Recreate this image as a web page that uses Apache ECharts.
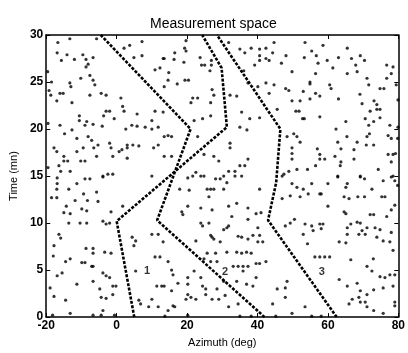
<!DOCTYPE html>
<html><head><meta charset="utf-8">
<script src="https://cdn.jsdelivr.net/npm/echarts/dist/echarts.min.js"></script>
<style>html,body{margin:0;padding:0;background:#fff}#c{width:408px;height:353px}</style>
</head><body><div id="c"></div>
<script>
const titleText = 'Measurement space';
const xName = 'Azimuth (deg)';
const yName = 'Time (mn)';
const xMin = -20, xMax = 80, xStep = 20;
const yMin = 0, yMax = 30, yStep = 5;

// true target tracks (azimuth, time)
const track1 = [[5,0],[0,10.2],[31.3,20.2],[29.8,26.5],[24.3,30]];
const track2 = [[42,0],[11.5,10.3],[21,20],[-4.5,30]];
const track3 = [[62.5,0],[43,10.3],[45.3,14.3],[46.5,20],[28.5,30]];

// track labels
const labelText = ['1','2','3'];
const labelX = [8.6, 30.8, 58.3];
const labelY = [4.9, 4.8, 4.8];

// clutter measurements, upper half (azimuth, time)
const clutterUpper = [
[-16.7,29.2],[-13.3,29.6],[-5.7,29.6],[-16.9,28.1],[-14.1,27.9],[-15.7,27.3],[-12.0,27.4],[-9.6,27.9],[-8.7,27.4],[-6.7,27.6],
[-8.1,26.9],[-8.7,26.6],[2.1,28.6],[3.7,28.9],[7.2,29.3],[4.9,27.6],[7.2,27.8],[13.2,27.5],[10.9,26.3],[12.3,26.5],
[-18.5,25.0],[-19.6,26.1],[-13.3,24.9],[-13.0,24.5],[-16.1,23.8],[-15.2,23.8],[-19.2,24.1],[-18.7,23.6],[-17.0,23.0],[-10.2,25.4],
[-7.6,25.7],[-6.7,25.2],[-6.2,24.7],[-7.6,23.6],[-4.4,23.8],[-3.0,23.6],[-12.7,22.8],[1.2,23.3],[1.7,22.4],[2.1,21.9],
[-3.0,21.9],[-2.0,21.9],[-3.7,21.4],[5.8,21.6],[10.9,21.9],[13.2,21.8],[-10.6,21.4],[-10.6,20.9],[-19.5,20.6],[-8.5,20.8],
[-9.0,20.4],[-6.7,20.5],[-16.1,20.4],[-4.1,20.3],[-0.7,21.1],[2.6,20.0],[4.3,20.4],[5.8,20.3],[8.1,20.2],[10.0,20.9],
[10.0,20.0],[11.8,20.2],[13.5,19.2],[-14.8,19.5],[-12.7,19.9],[-11.3,19.0],[-8.1,19.2],[-7.1,18.8],[-9.5,18.0],[-6.5,18.0],
[-5.3,18.3],[-2.0,18.5],[-1.6,18.0],[0.7,17.6],[3.0,18.0],[3.0,18.3],[4.6,18.3],[6.3,18.2],[-1.1,17.1],[1.5,17.8],
[-17.8,18.0],[-17.0,17.6],[-11.3,17.6],[-5.7,17.1],[10.5,18.0],[11.8,18.3],[3.0,16.9],[-15.0,17.1],[-15.0,16.6],[-13.9,16.6],
[-10.2,16.6],[-9.0,16.6],[-16.4,16.1],[-15.9,15.5],[-13.2,15.5],[-3.9,15.0],[-2.5,15.2],[-1.1,15.2],[10.0,15.0],[-19.5,15.9],
[19.7,29.4],[19.3,28.6],[19.7,28.3],[16.5,28.1],[13.5,27.5],[16.3,27.4],[19.1,27.1],[23.7,27.6],[24.1,26.8],[25.0,26.8],
[26.9,27.3],[26.9,26.8],[26.5,26.2],[14.8,26.0],[14.6,25.2],[17.2,24.8],[19.4,25.2],[20.4,25.2],[13.5,24.5],[31.8,29.2],
[35.0,28.5],[36.4,28.1],[38.2,28.6],[40.6,28.5],[42.4,28.6],[44.7,29.2],[44.3,28.1],[40.6,27.8],[42.4,27.5],[43.3,27.3],
[40.6,27.3],[39.2,26.8],[36.1,26.2],[37.3,24.9],[40.1,24.5],[42.4,24.9],[44.7,24.7],[43.3,23.8],[21.6,23.3],[23.0,23.3],
[21.1,22.8],[26.7,22.8],[27.1,24.2],[27.6,23.6],[32.2,23.6],[34.1,23.5],[45.6,22.1],[35.5,21.8],[37.8,21.1],[40.6,21.2],
[35.0,20.2],[37.0,19.9],[22.0,20.9],[24.4,21.1],[26.7,21.4],[23.0,19.2],[14.6,19.3],[15.6,19.2],[24.8,17.3],[27.6,17.1],
[29.0,16.6],[32.2,18.5],[32.2,18.0],[37.3,16.8],[35.0,16.1],[36.4,16.1],[33.6,15.5],[31.8,15.5],[15.6,17.1],[13.5,17.1],
[22.5,15.4],[23.9,15.0],[30.4,15.0],
[53.5,29.2],[58.6,28.9],[65.5,28.6],[55.4,28.3],[48.1,27.8],[46.8,27.0],[53.3,27.6],[56.7,27.8],[59.8,27.3],[63.0,27.6],
[66.7,27.5],[69.2,27.8],[70.4,27.3],[57.2,27.0],[61.4,26.5],[67.9,26.8],[68.3,26.1],[76.7,26.8],[78.5,26.6],[78.0,25.9],
[49.8,26.1],[56.5,25.9],[65.5,25.9],[71.1,25.4],[71.6,24.7],[76.7,25.4],[79.4,24.7],[54.9,25.0],[54.9,24.8],[60.5,24.7],
[60.9,24.3],[48.0,24.3],[48.9,24.1],[53.0,24.0],[56.5,23.8],[57.7,23.5],[54.9,23.2],[74.8,24.3],[75.9,24.3],[69.1,23.7],
[63.0,23.2],[49.8,23.0],[52.1,23.0],[69.7,22.7],[73.1,23.0],[73.9,22.6],[79.9,23.1],[50.9,21.9],[51.8,21.9],[72.0,21.9],
[73.9,22.1],[74.8,22.1],[57.7,21.3],[52.8,21.1],[53.3,21.1],[65.1,20.8],[70.6,21.1],[73.0,20.8],[71.6,20.4],[74.8,21.2],
[62.3,20.0],[77.6,20.4],[79.9,20.2],[48.4,19.2],[50.3,19.5],[51.2,19.2],[52.1,18.6],[71.8,19.5],[71.1,19.2],[77.1,19.3],
[78.0,19.0],[79.8,19.0],[65.4,19.2],[62.8,18.6],[68.3,18.6],[70.9,18.3],[73.0,18.3],[49.8,18.0],[49.8,17.4],[49.8,16.8],
[57.0,17.9],[63.7,17.9],[57.7,17.3],[67.4,17.8],[57.7,16.8],[59.1,16.8],[62.0,17.1],[63.7,16.5],[67.4,16.8],[77.1,17.3],
[78.5,17.3],[79.2,17.4],[47.5,15.2],[48.9,15.5],[51.2,15.7],[54.2,15.7],[56.5,16.1],[63.5,16.1],[78.0,16.5],[74.3,15.7],
[62.8,15.0],[69.2,15.0],[78.5,15.0]
];

// clutter measurements, lower half (azimuth, time)
const clutterLower = [
[-16.9,14.8],[-16.9,14.2],[-17.0,13.6],[-18.5,12.7],[-17.0,12.7],[-13.6,13.6],[-11.3,14.2],[-9.0,14.7],[-7.6,14.7],[-3.9,14.9],
[-9.4,13.1],[-5.7,13.3],[-8.3,12.4],[-5.3,12.3],[-14.3,11.8],[-11.8,12.4],[-15.0,11.1],[-13.2,11.0],[-9.9,11.5],[-8.5,11.3],
[-1.6,11.2],[1.7,11.8],[-13.6,10.0],[-10.4,10.0],[-8.5,10.0],[-3.9,10.2],[-3.0,9.9],[-2.0,10.0],[-16.4,8.8],[-15.9,8.4],
[-17.8,7.6],[-8.7,7.3],[-6.7,7.3],[-6.7,6.8],[-3.4,6.9],[-1.6,6.8],[4.4,8.5],[5.4,8.1],[4.9,7.6],[10.0,8.8],
[11.8,8.8],[-14.5,5.9],[-13.2,6.2],[-9.9,5.8],[-9.0,5.8],[-7.1,5.4],[-6.7,5.4],[-18.0,6.5],[-16.9,4.4],[-15.5,4.7],
[-11.3,3.5],[-6.7,3.8],[-3.9,4.7],[-3.0,4.4],[-2.0,4.2],[-0.2,3.3],[-1.1,3.3],[5.4,4.9],[10.9,6.4],[12.3,6.4],
[-18.9,3.1],[-17.8,2.2],[-14.5,1.8],[-4.8,3.0],[-4.4,2.1],[-3.0,2.0],[-1.1,2.4],[6.3,1.8],[6.8,1.4],[9.1,1.1],
[10.0,1.9],[11.4,3.3],[12.8,3.3],[11.8,1.1],[-3.9,0.7],[-18.2,0.2],[-13.2,0.4],[-6.7,0.2],[-4.4,0.2],[-0.6,0.2],
[20.2,14.8],[21.6,15.0],[24.8,15.0],[28.1,14.7],[29.4,14.7],[33.6,15.0],[35.5,15.0],[31.3,14.3],[17.9,13.6],[20.6,13.5],
[25.7,13.6],[26.7,13.6],[27.6,13.6],[30.4,13.6],[40.6,13.6],[26.2,12.8],[18.5,11.2],[18.8,10.9],[20.2,11.8],[23.9,11.6],
[27.1,11.4],[31.8,11.8],[34.1,12.1],[37.3,11.6],[39.6,11.0],[41.0,11.1],[32.7,10.7],[37.3,10.4],[23.9,10.0],[24.4,9.7],
[26.2,10.0],[30.4,9.3],[31.3,9.5],[31.8,9.7],[40.1,9.5],[38.7,8.7],[40.6,8.7],[26.7,8.7],[27.1,8.5],[27.6,8.3],
[29.4,8.0],[34.5,8.6],[35.5,8.5],[37.3,8.3],[40.1,8.0],[41.5,8.0],[22.5,8.1],[13.2,8.0],[31.3,6.9],[34.1,6.9],
[35.5,6.8],[36.9,6.9],[38.2,6.8],[25.7,6.8],[28.1,6.8],[14.6,5.9],[24.8,6.2],[26.7,5.9],[28.5,5.9],[33.1,5.4],
[34.5,5.4],[35.9,5.4],[37.3,5.4],[39.6,5.7],[40.6,5.7],[42.4,5.9],[35.9,4.9],[39.6,4.2],[15.6,5.0],[16.0,4.5],
[20.2,4.2],[22.0,4.9],[23.9,4.2],[17.4,3.6],[20.2,3.5],[13.5,3.3],[15.6,2.8],[24.4,3.3],[25.3,3.0],[28.5,3.0],
[30.4,3.8],[34.1,3.8],[36.9,3.5],[38.7,3.3],[45.6,3.0],[20.2,2.4],[21.1,2.1],[22.5,1.9],[19.7,1.9],[25.3,2.4],
[27.1,1.9],[29.0,1.9],[30.8,2.3],[16.0,1.2],[16.5,1.1],[14.6,0.7],[31.8,1.1],[34.5,1.4],[44.3,1.4],[13.7,0.1],
[20.2,0.2],[35.0,0.1],[38.2,0.1],[45.2,0.1],
[47.0,15.0],[49.8,14.2],[51.2,13.8],[53.0,13.6],[55.4,14.2],[60.0,14.2],[62.8,14.9],[65.5,14.2],[65.1,13.8],[69.2,14.9],
[70.4,14.7],[75.7,14.5],[78.0,14.9],[79.0,14.5],[79.8,14.0],[47.0,12.6],[49.3,12.9],[52.1,12.8],[54.4,13.1],[57.7,13.1],
[58.1,13.1],[60.0,11.8],[64.6,12.8],[66.0,12.6],[68.5,12.8],[70.4,12.8],[75.3,12.8],[76.2,12.8],[72.5,13.6],[79.0,11.9],
[78.0,11.4],[64.6,11.2],[65.1,11.0],[72.0,10.9],[73.0,10.9],[76.7,10.7],[47.9,9.7],[49.3,10.0],[50.5,10.4],[53.5,9.9],
[55.4,9.7],[57.7,9.9],[58.6,9.9],[58.1,9.4],[55.8,9.2],[53.0,8.8],[65.5,9.5],[66.5,9.9],[68.3,10.1],[69.2,10.0],
[71.1,9.5],[69.7,9.2],[70.6,8.8],[65.5,8.8],[68.8,8.8],[73.4,9.5],[74.8,9.3],[78.0,9.0],[73.9,8.5],[75.7,8.1],
[77.6,8.0],[63.2,8.0],[65.1,7.9],[54.2,7.8],[56.3,6.4],[57.7,6.4],[59.1,6.4],[60.5,6.4],[66.5,6.1],[72.9,6.2],
[71.1,5.4],[72.5,4.9],[78.5,7.1],[74.8,4.3],[76.2,4.2],[77.6,4.5],[79.0,4.5],[63.2,4.0],[65.5,3.3],[68.3,3.6],
[69.2,2.8],[71.1,2.4],[73.0,2.9],[75.7,3.1],[78.5,3.3],[66.9,1.9],[68.8,2.1],[69.2,1.6],[70.6,1.6],[66.0,1.4],
[71.1,1.1],[73.0,0.7],[75.7,0.4],[79.0,1.6],[79.0,1.2],[53.5,1.1],[49.8,0.4],[55.4,0.1],[58.1,0.1],[48.4,3.8],
[47.9,3.1],[47.9,2.1]
];

const chart = echarts.init(document.getElementById('c'), null, {renderer: 'canvas'});
const FONT = 'Liberation Sans, Arial, sans-serif';
const trackStyle = {color: '#000', width: 2.6, type: [3, 1.5]};
function trackSeries(d) {
  return {type: 'line', data: d, symbol: 'none', lineStyle: trackStyle, silent: true, z: 3};
}
const axisCommon = {
  axisLine: {show: true, onZero: false, lineStyle: {color: '#000', width: 1.5}},
  axisTick: {show: true, inside: true, length: 4, lineStyle: {color: '#000'}},
  splitLine: {show: false}
};
chart.setOption({
  animation: false,
  backgroundColor: '#fff',
  title: {text: titleText, left: 145, top: 12, textStyle: {fontFamily: FONT, fontSize: 14, fontWeight: 'normal', color: '#000'}},
  grid: {left: 40, right: 7, top: 35, bottom: 28},
  xAxis: [
    Object.assign({type: 'value', min: xMin, max: xMax, interval: xStep, position: 'bottom',
      name: xName, nameLocation: 'middle', nameGap: 19,
      nameTextStyle: {fontFamily: FONT, fontSize: 11, color: '#000'},
      axisLabel: {fontFamily: FONT, fontSize: 12, fontWeight: 'bold', color: '#000', margin: 3}}, axisCommon),
    Object.assign({type: 'value', min: xMin, max: xMax, interval: xStep, position: 'top',
      axisLabel: {show: false}}, axisCommon)
  ],
  yAxis: [
    Object.assign({type: 'value', min: yMin, max: yMax, interval: yStep, position: 'left',
      name: yName, nameLocation: 'middle', nameGap: 22,
      nameTextStyle: {fontFamily: FONT, fontSize: 11, color: '#000'},
      axisLabel: {fontFamily: FONT, fontSize: 12, fontWeight: 'bold', color: '#000', margin: 3}}, axisCommon),
    Object.assign({type: 'value', min: yMin, max: yMax, interval: yStep, position: 'right',
      axisLabel: {show: false}}, axisCommon)
  ],
  series: [
    {type: 'scatter', data: clutterUpper.concat(clutterLower), symbol: 'circle', symbolSize: 3.2,
      itemStyle: {color: '#000'}, silent: true, z: 2},
    trackSeries(track1), trackSeries(track2), trackSeries(track3),
    {type: 'scatter', symbolSize: 0, silent: true, z: 4,
      data: labelText.map((t, i) => ({value: [labelX[i], labelY[i]], name: t})),
      label: {show: true, position: 'inside', formatter: p => p.name,
        fontFamily: FONT, fontSize: 11, fontWeight: 'bold', color: '#000'}}
  ]
});
</script>
</body></html>
